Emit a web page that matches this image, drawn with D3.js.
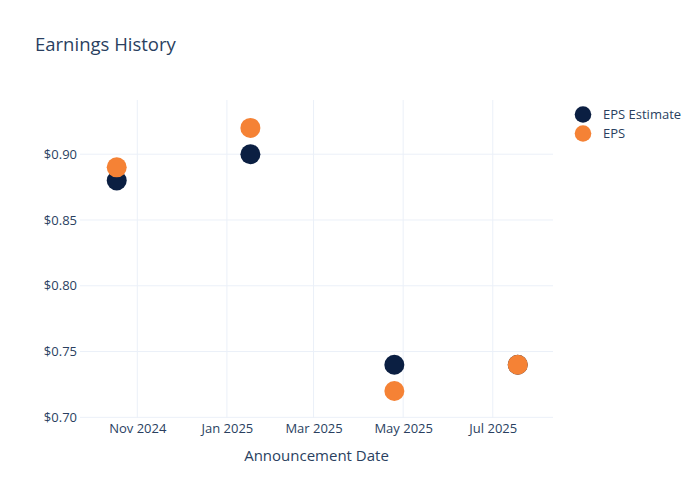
<!DOCTYPE html>
<html><head><meta charset="utf-8">
<script src="https://cdn.jsdelivr.net/npm/d3@7"></script>
<style>body{margin:0;background:#fff;} svg{display:block;font-family:"Open Sans","Noto Sans",sans-serif;}</style>
</head><body>
<script>
const dates = ["2024-10-18","2025-01-17","2025-04-25","2025-07-18"];
const epsEstimate = [0.88, 0.90, 0.74, 0.74];
const eps = [0.89, 0.92, 0.72, 0.74];
const seriesNames = ["EPS Estimate", "EPS"];
const seriesColors = ["#0b1f42", "#f58235"];
const xTicks = ["2024-11-01","2025-01-01","2025-03-01","2025-05-01","2025-07-01"];
const yTicks = [0.70, 0.75, 0.80, 0.85, 0.90];

const W = 700, H = 500;
const m = {l: 80, r: 147, t: 100, b: 82};
const font = "'Open Sans','Noto Sans',sans-serif";
const parse = d3.utcParse("%Y-%m-%d");
const svg = d3.select("body").append("svg").attr("width", W).attr("height", H);

const x = d3.scaleUtc().domain([parse("2024-09-23"), parse("2025-08-11")]).range([m.l, W - m.r]);
const y = d3.scaleLinear().domain([0.6995, 0.9412]).range([H - m.b, m.t]);

const grid = "#ebf0f8", txt = "#2a3f5f";
svg.append("g").selectAll("line").data(xTicks).join("line")
  .attr("x1", d => x(parse(d))).attr("x2", d => x(parse(d)))
  .attr("y1", m.t).attr("y2", H - m.b).attr("stroke", grid);
svg.append("g").selectAll("line").data(yTicks).join("line")
  .attr("x1", m.l).attr("x2", W - m.r)
  .attr("y1", d => y(d)).attr("y2", d => y(d)).attr("stroke", grid);

const xAxis = d3.axisBottom(x).tickValues(xTicks.map(parse)).tickFormat(d3.utcFormat("%b %Y")).tickSize(0).tickPadding(6);
const gx = svg.append("g").attr("transform", `translate(0,${H - m.b})`).call(xAxis)
  .attr("font-family", font).attr("font-size", 13);
gx.select(".domain").remove();
gx.selectAll("text").attr("fill", txt);

const yAxis = d3.axisLeft(y).tickValues(yTicks).tickFormat(d => "$" + d3.format(".2f")(d)).tickSize(0).tickPadding(3);
const gy = svg.append("g").attr("transform", `translate(${m.l},0)`).call(yAxis)
  .attr("font-family", font).attr("font-size", 13);
gy.select(".domain").remove();
gy.selectAll("text").attr("fill", txt);

const series = [epsEstimate, eps];
series.forEach((vals, i) => {
  svg.append("g").selectAll("circle").data(vals).join("circle")
    .attr("cx", (d, j) => x(parse(dates[j])))
    .attr("cy", d => y(d))
    .attr("r", 10)
    .attr("fill", seriesColors[i]);
});

svg.append("text").attr("x", 35).attr("y", 51).attr("fill", txt).attr("font-size", 18.5).text("Earnings History");
svg.append("text").attr("x", (m.l + W - m.r) / 2).attr("y", 461).attr("text-anchor", "middle")
  .attr("fill", txt).attr("font-size", 15).text("Announcement Date");

const leg = svg.append("g");
seriesNames.forEach((n, i) => {
  leg.append("circle").attr("cx", 583).attr("cy", 114.5 + i * 19).attr("r", 8.3).attr("fill", seriesColors[i]);
  leg.append("text").attr("x", 603).attr("y", 118.5 + i * 19).attr("fill", txt).attr("font-size", 13).text(n);
});
</script>
</body></html>
